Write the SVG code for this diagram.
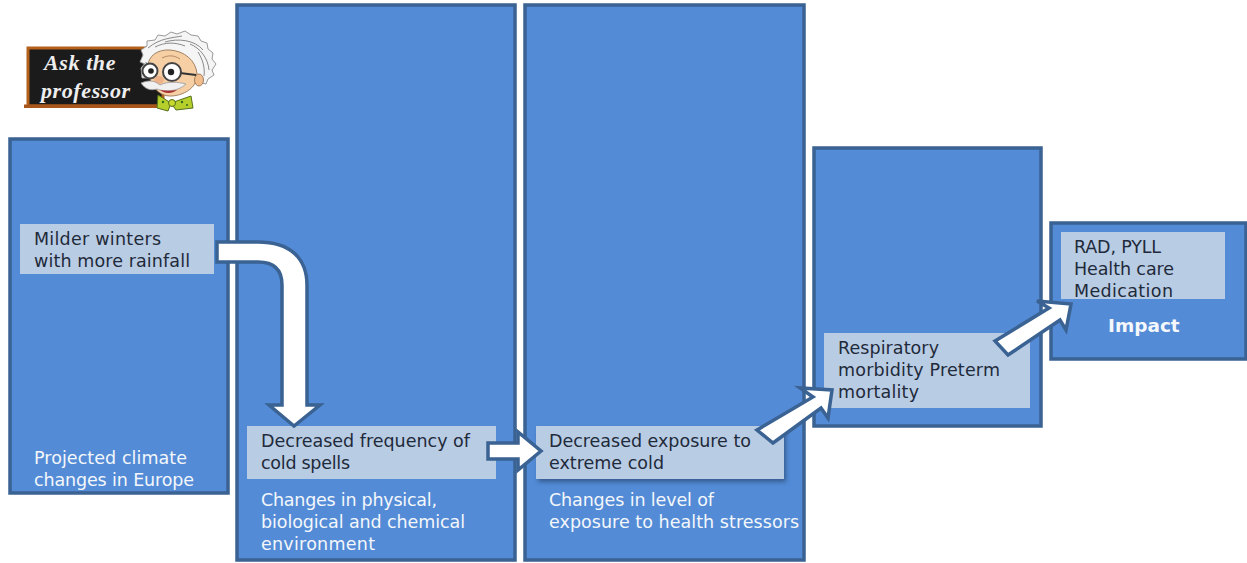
<svg xmlns="http://www.w3.org/2000/svg" width="1247" height="563" viewBox="0 0 1247 563">
<style>
.panel{fill:#538bd6;stroke:#3a6292;stroke-width:3.5}
.box{fill:#b8cce4}
.arrow{fill:#fff;stroke:#3a6292;stroke-width:3.5;stroke-linejoin:miter}
text{font-family:"DejaVu Sans",Verdana,sans-serif;font-size:17.5px}
.d{fill:#1f2a3a}
.w{fill:#f4f7fb}
.board{font-family:"Liberation Serif",serif;font-style:italic;font-weight:bold;font-size:22px;letter-spacing:.6px;fill:#eeeeee}
.hair{fill:none;stroke:#8a8a8a;stroke-width:1}
</style>
<defs>
<filter id="sh" x="-5%" y="-10%" width="112%" height="125%"><feDropShadow dx="2" dy="3" stdDeviation="2" flood-color="#1c3558" flood-opacity=".55"/></filter>
</defs>
<rect width="1247" height="563" fill="#fff"/>
<g id="professor">
<rect x="28" y="48" width="135" height="58" fill="#1b1b1b" stroke="#b4611c" stroke-width="3"/>
<rect x="24" y="104.500" width="142" height="3.500" fill="#a8561a"/>
<text class="board" x="44" y="70">Ask the</text>
<text class="board" x="41" y="98">professor</text>
<path d="M140 62L143 55L141 50L147 46L147 41L155 40L158 35L165 36L171 32L177 34L185 31L191 35L198 36L201 41L207 43L208 49L213 53L212 59L216 64L212 70L214 75L208 79L206 84L198 82L188 60L165 52L150 66Z" fill="#f5f5f5" stroke="#999" stroke-width="1"/>
<path class="hair" d="M148 48C160 38 172 38 182 36M165 42C178 38 195 40 203 50M190 44C200 48 208 58 209 70M155 47C165 42 175 42 185 46M198 52C203 60 205 68 204 76"/>
<path d="M148 66C148 56 158 49 170 50C184 51 196 60 197 74C198 86 186 95 172 96C158 97 148 84 148 66Z" fill="#f6cfa4" stroke="#8a6a48" stroke-width=".8"/>
<ellipse cx="199" cy="80" rx="4.500" ry="6" fill="#f2bd8c" stroke="#8a6a48" stroke-width=".8"/>
<path d="M141 68L146 62L158 78L142 78Z" fill="#f5f5f5" stroke="#aaa" stroke-width=".8"/>
<path d="M162 58C168 55 174 55 180 59" fill="none" stroke="#b58a63"/>
<path d="M180 73L196 75" stroke="#333" stroke-width="1.800"/>
<circle cx="150" cy="71" r="7.500" fill="#fff" stroke="#444" stroke-width="2"/>
<circle cx="172" cy="72" r="9" fill="#fff" stroke="#444" stroke-width="2"/>
<circle cx="151" cy="71" r="2.800" fill="#222"/>
<circle cx="171" cy="72" r="3.200" fill="#222"/>
<ellipse cx="159" cy="80" rx="5" ry="4" fill="#eeb288"/>
<path d="M141 83C148 80 154 80 160 85C168 81 178 82 186 84C178 92 164 92 157 89C150 91 145 89 141 83Z" fill="#f0f0f0" stroke="#999" stroke-width=".8"/>
<path d="M160 90C165 94 172 94 177 90C171 91 165 91 160 90Z" fill="#a83030"/>
<path d="M171 103L158 95L157 108L168 111ZM171 103L191 96L193 108L176 110Z" fill="#b6cf2b" stroke="#55701a"/>
<circle cx="172" cy="103" r="3.500" fill="#c9d82f" stroke="#55701a"/>
<circle cx="163" cy="102" r="1.200" fill="#2f6a20"/>
<circle cx="182" cy="102" r="1.200" fill="#2f6a20"/>
<circle cx="187" cy="105" r="1" fill="#2f6a20"/>
</g>
<g id="panel-climate"><rect class="panel" x="10" y="139" width="218" height="354"/></g>
<g id="panel-environment"><rect class="panel" x="237" y="5" width="278" height="555"/></g>
<g id="panel-exposure"><rect class="panel" x="525" y="5" width="279" height="555"/></g>
<g id="panel-morbidity"><rect class="panel" x="814" y="148" width="227" height="278"/></g>
<g id="panel-impact"><rect class="panel" x="1051" y="223" width="195" height="136"/></g>
<g id="node-climate">
<rect class="box" x="20" y="224" width="194" height="50"/>
<text class="d" x="34" y="245" textLength="127">Milder winters</text>
<text class="d" x="34" y="267" textLength="156">with more rainfall</text>
<text class="w" x="34" y="464" textLength="153">Projected climate</text>
<text class="w" x="34" y="486" textLength="160">changes in Europe</text>
</g>
<g id="node-environment">
<rect class="box" x="247" y="426" width="249" height="53"/>
<text class="d" x="261" y="447" textLength="209">Decreased frequency of</text>
<text class="d" x="261" y="469" textLength="89">cold spells</text>
<text class="w" x="261" y="506" textLength="176">Changes in physical,</text>
<text class="w" x="261" y="528" textLength="204">biological and chemical</text>
<text class="w" x="261" y="550" textLength="114">environment</text>
</g>
<g id="node-exposure">
<rect class="box" x="536" y="426" width="248" height="53" filter="url(#sh)"/>
<text class="d" x="549" y="447" textLength="202">Decreased exposure to</text>
<text class="d" x="549" y="469" textLength="115">extreme cold</text>
<text class="w" x="549" y="506" textLength="165">Changes in level of</text>
<text class="w" x="549" y="528" textLength="250">exposure to health stressors</text>
</g>
<g id="node-morbidity">
<rect class="box" x="824" y="333" width="206" height="75"/>
<text class="d" x="838" y="354" textLength="101">Respiratory</text>
<text class="d" x="838" y="376" textLength="162">morbidity Preterm</text>
<text class="d" x="838" y="398" textLength="81">mortality</text>
</g>
<g id="node-impact">
<rect class="box" x="1061" y="232" width="164" height="67"/>
<text class="d" x="1074" y="253" textLength="87">RAD, PYLL</text>
<text class="d" x="1074" y="275" textLength="100">Health care</text>
<text class="d" x="1074" y="297" textLength="99">Medication</text>
<text class="w" x="1108" y="332" font-weight="bold" style="font-size:18.500px">Impact</text>
</g>
<g id="connectors">
<path class="arrow" d="M217 242H258C290 242 307 258 307 285V405H320L294 426L269 405H282V285C282 270 274 262 258 262H217Z"/>
<path class="arrow" d="M488 443H518V432L541 451L518 470V459H488Z"/>
<path class="arrow" d="M757 430L813 397L800 388L832 390L828 418L821 408L773 443Z"/>
<path class="arrow" d="M995 341L1049 308L1037 301L1071 304L1066 330L1060 320L1008 355Z"/>
</g>
</svg>
